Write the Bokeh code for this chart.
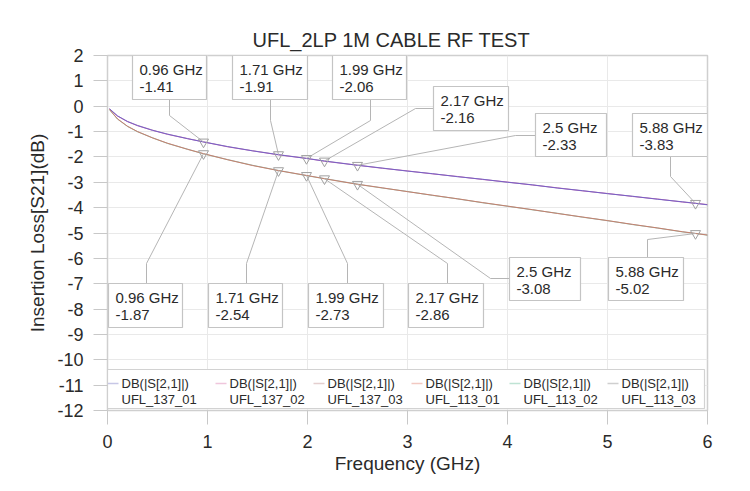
from bokeh.plotting import figure
from bokeh.models import Range1d
from bokeh.core.properties import value
from bokeh.embed import file_html
from bokeh.resources import INLINE

# ---------------- data ----------------
TITLE = "UFL_2LP 1M CABLE RF TEST"
X_LABEL = "Frequency (GHz)"
Y_LABEL = "Insertion Loss[S21](dB)"
x_ticks = [0, 1, 2, 3, 4, 5, 6]
y_ticks = list(range(-12, 3))

freq = [0.02, 0.1, 0.2, 0.3, 0.45, 0.6, 0.8, 0.96, 1.2, 1.45, 1.71, 1.99, 2.17, 2.5,
        2.75, 3.0, 3.25, 3.5, 3.75, 4.0, 4.25, 4.5, 4.75, 5.0, 5.25, 5.5, 5.75, 5.88, 6.0]

ufl_137_01 = [-0.10, -0.38, -0.60, -0.76, -0.95, -1.10, -1.28, -1.41, -1.59, -1.76, -1.91, -2.06, -2.16, -2.33,
              -2.44, -2.56, -2.66, -2.78, -2.88, -3.00, -3.10, -3.23, -3.33, -3.45, -3.55, -3.67, -3.77, -3.83, -3.89]
ufl_137_02 = [-0.11, -0.39, -0.61, -0.77, -0.95, -1.11, -1.28, -1.41, -1.60, -1.76, -1.92, -2.06, -2.17, -2.33,
              -2.45, -2.55, -2.67, -2.77, -2.89, -2.99, -3.11, -3.22, -3.34, -3.44, -3.56, -3.66, -3.78, -3.83, -3.88]
ufl_137_03 = [-0.10, -0.38, -0.60, -0.75, -0.94, -1.10, -1.27, -1.40, -1.59, -1.75, -1.91, -2.05, -2.16, -2.32,
              -2.44, -2.56, -2.66, -2.78, -2.88, -3.00, -3.10, -3.22, -3.33, -3.45, -3.55, -3.66, -3.77, -3.82, -3.88]
ufl_113_01 = [-0.13, -0.50, -0.79, -1.00, -1.25, -1.46, -1.70, -1.87, -2.11, -2.34, -2.54, -2.73, -2.86, -3.08,
              -3.22, -3.37, -3.51, -3.65, -3.80, -3.94, -4.08, -4.23, -4.37, -4.51, -4.66, -4.80, -4.95, -5.02, -5.08]
ufl_113_02 = [-0.14, -0.51, -0.80, -1.01, -1.25, -1.47, -1.70, -1.88, -2.11, -2.33, -2.54, -2.74, -2.86, -3.08,
              -3.23, -3.36, -3.52, -3.65, -3.81, -3.94, -4.09, -4.22, -4.38, -4.51, -4.67, -4.80, -4.96, -5.02, -5.09]
ufl_113_03 = [-0.13, -0.50, -0.79, -1.00, -1.24, -1.46, -1.69, -1.87, -2.10, -2.33, -2.53, -2.73, -2.85, -3.07,
              -3.22, -3.37, -3.51, -3.66, -3.80, -3.95, -4.08, -4.23, -4.37, -4.52, -4.66, -4.81, -4.95, -5.01, -5.08]

series_names = ["UFL_137_01", "UFL_137_02", "UFL_137_03", "UFL_113_01", "UFL_113_02", "UFL_113_03"]
series_values = [ufl_137_01, ufl_137_02, ufl_137_03, ufl_113_01, ufl_113_02, ufl_113_03]
legend_prefix = "DB(|S[2,1]|)"

marker_freq = [0.96, 1.71, 1.99, 2.17, 2.5, 5.88]
marker_137 = [-1.41, -1.91, -2.06, -2.16, -2.33, -3.83]
marker_113 = [-1.87, -2.54, -2.73, -2.86, -3.08, -5.02]

# ---------------- styles / layout ----------------
series_colors = ["#5c5cc8", "#c05ab0", "#c9a3b3", "#d0705f", "#5aa882", "#a8a8a8"]
legend_colors = ["#c7c7e6", "#efc6dc", "#e4cfcf", "#f2c9c2", "#bfe3d4", "#cfcfcf"]
draw_order = [2, 1, 0, 5, 4, 3]
draw_alpha = [0.75, 0.9, 0.55, 0.8, 0.5, 0.6]
FONT = "Liberation Sans"
GRAY_TXT = "#2a2a2a"

# pixel geometry (page pixels) of the frame
FL, FT, PXX, PXY = 107, 55, 100.0, 355.0 / 14.0


def dx(px):
    return (px - FL) / PXX


def dy(py):
    return 2 - (py - FT) / PXY


# annotation boxes: (left, top, width, height) in page pixels, leader polyline start pts
up_boxes = [(132, 55, 74, 44), (232, 55, 75, 44), (332, 55, 74, 44),
            (433, 86, 75, 44), (535, 113, 71, 43), (632, 113, 75, 43)]
up_leads = [[(169, 99), (169, 115)], [(270, 99), (270, 120)], [(370, 99), (370, 120)],
            [(433, 108), (415, 108)], [(535, 135), (515, 135)], [(670, 156), (670, 176)]]
lo_boxes = [(108, 283, 74, 44), (208, 283, 74, 44), (308, 283, 75, 44),
            (408, 283, 75, 44), (509, 257, 71, 43), (608, 257, 75, 43)]
lo_leads = [[(146, 283), (146, 263)], [(246, 283), (246, 263)], [(347, 283), (347, 263)],
            [(447, 283), (447, 263)], [(509, 278), (490, 278)], [(647, 257), (647, 239)]]

p = figure(width=742, height=483, output_backend="svg", toolbar_location=None,
           x_range=Range1d(0, 6), y_range=Range1d(-12, 2),
           min_border_left=107, min_border_right=35, min_border_top=55, min_border_bottom=73,
           title=TITLE)

p.background_fill_color = "white"
p.border_fill_color = "white"
p.outline_line_color = "#cfcfcf"
p.outline_line_width = 1.5

p.title.text_font = FONT
p.title.text_font_size = "20px"
p.title.text_font_style = "normal"
p.title.text_color = GRAY_TXT
p.title.align = "left"
p.title.offset = 145

for ax, ticks in ((p.xaxis, x_ticks), (p.yaxis, y_ticks)):
    ax.ticker = ticks
    ax.major_label_overrides = {t: str(t) for t in ticks}
    ax.axis_line_color = "#cfcfcf"
    ax.major_tick_line_color = "#c8c8c8"
    ax.major_tick_out = 14
    ax.major_tick_in = 0
    ax.minor_tick_line_color = None
    ax.major_label_standoff = 10
    ax.major_label_text_font = FONT
    ax.major_label_text_font_size = "18px"
    ax.major_label_text_color = GRAY_TXT
    ax.axis_label_text_font = FONT
    ax.axis_label_text_font_size = "19px"
    ax.axis_label_text_font_style = "normal"
    ax.axis_label_text_color = GRAY_TXT

p.xaxis.axis_label = X_LABEL
p.yaxis.axis_label = Y_LABEL
p.xaxis.axis_label_standoff = 2
p.yaxis.axis_label_standoff = 6

p.grid.grid_line_color = "#e9e9e9"
p.grid.grid_line_width = 1

# curves
for i in draw_order:
    p.line(freq, series_values[i], line_color=series_colors[i], line_width=1,
           line_alpha=draw_alpha[i])


def box_glyphs(boxes, leads, mfreq, mvals):
    lx, ly = [], []
    for (pts, f, v) in zip(leads, mfreq, mvals):
        lx.append([dx(q[0]) for q in pts] + [f])
        ly.append([dy(q[1]) for q in pts] + [v])
    p.multi_line(lx, ly, line_color="#b5b5b5", line_width=1)
    p.quad(left=[dx(b[0]) for b in boxes], right=[dx(b[0] + b[2]) for b in boxes],
           top=[dy(b[1]) for b in boxes], bottom=[dy(b[1] + b[3]) for b in boxes],
           fill_color="white", line_color="#c4c4c4", line_width=1.2)
    p.text(x=[dx(b[0] + 7) for b in boxes], y=[dy(b[1] + 14) for b in boxes],
           text=[f"{f} GHz" for f in mfreq], text_font=value(FONT), text_font_size="15px",
           text_color=GRAY_TXT, text_baseline="middle", text_align="left")
    p.text(x=[dx(b[0] + 7) for b in boxes], y=[dy(b[1] + 31) for b in boxes],
           text=[f"{v:.2f}" for v in mvals], text_font=value(FONT), text_font_size="15px",
           text_color=GRAY_TXT, text_baseline="middle", text_align="left")
    p.scatter(mfreq, mvals, marker="inverted_triangle", size=10,
              line_color="#a0a0a0", fill_color=None, line_width=1)


box_glyphs(up_boxes, up_leads, marker_freq, marker_137)
box_glyphs(lo_boxes, lo_leads, marker_freq, marker_113)

# legend (manual, two-line labels)
LEG_T, LEG_B, LEG_R = 369, 408, 704
leg_text_x = [121, 229, 327, 425, 523, 621]
p.quad(left=[dx(FL)], right=[dx(LEG_R)], top=[dy(LEG_T)], bottom=[dy(LEG_B)],
       fill_color="white", line_color="#d2d2d2", line_width=1.2)
p.multi_line([[dx(t - 14), dx(t - 3)] for t in leg_text_x], [[dy(383), dy(383)] for _ in leg_text_x],
             line_color=legend_colors, line_width=1.5)
p.text(x=[dx(t) for t in leg_text_x], y=[dy(383)] * 6, text=[legend_prefix] * 6,
       text_font=value(FONT), text_font_size="13px", text_color=GRAY_TXT,
       text_baseline="middle", text_align="left")
p.text(x=[dx(t) for t in leg_text_x], y=[dy(399)] * 6, text=series_names,
       text_font=value(FONT), text_font_size="13px", text_color=GRAY_TXT,
       text_baseline="middle", text_align="left")

open("out.html", "w").write(file_html(p, INLINE))
